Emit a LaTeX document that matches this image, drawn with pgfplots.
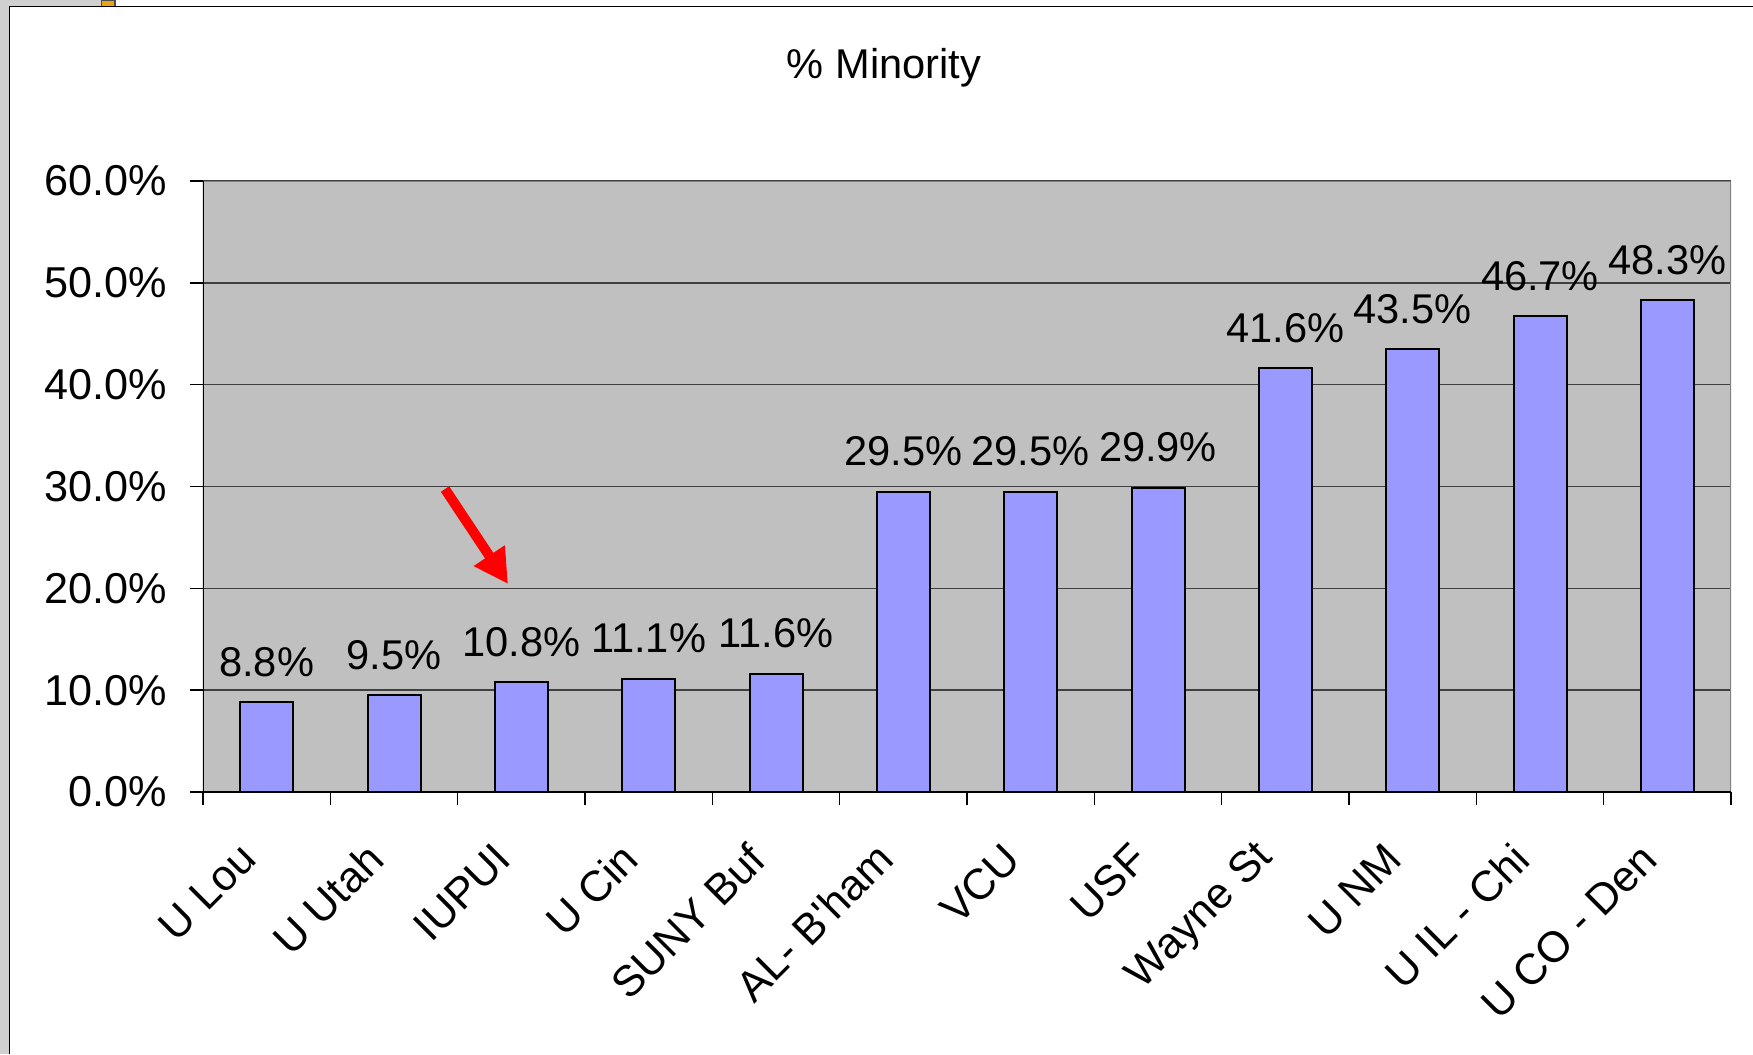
\documentclass[border=0pt]{standalone}
\usepackage{fontspec}
\setmainfont{Liberation Sans}
\usepackage{pgfplots}
\pgfplotsset{compat=1.18}
\usetikzlibrary{arrows.meta}
\definecolor{barblue}{HTML}{9999FF}
\definecolor{plotgray}{HTML}{C0C0C0}
\definecolor{framegray}{HTML}{808080}
\definecolor{slidegray}{HTML}{D0D0D0}
\definecolor{orangebit}{HTML}{E8A317}
\newcommand{\lblfont}{\fontsize{10.4}{12}\selectfont}
\newcommand{\tickfont}{\fontsize{10.8}{12.5}\selectfont}
\begin{document}
\begin{tikzpicture}[x=0.25pt,y=0.25pt]
\useasboundingbox (0,0) rectangle (1753,1054);
\fill[white] (0,0) rectangle (1753,1054);
\fill[slidegray] (0,0) rectangle (9.5,1054);
\fill[slidegray] (0,1054) rectangle (101,1047.5);
\fill[orangebit,draw=black!70,line width=0.3pt] (101.5,1054) rectangle (115,1047.5);
\draw[black,line width=0.4pt] (9.5,0) -- (9.5,1047.5) -- (1753,1047.5);
\node[anchor=base,font=\lblfont,inner sep=0pt] at (884,976) {\% Minority};
\begin{axis}[
  at={(50.75pt,65.5pt)}, anchor=south west,
  width=382pt, height=152.75pt, scale only axis,
  xmin=-0.5, xmax=11.5, ymin=0, ymax=60,
  axis background/.style={fill=plotgray},
  axis line style={draw=none},
  ybar, bar width=13.25pt,
  ytick={0,10,...,60},
  /pgf/number format/assume math mode=true,
  yticklabel={\pgfmathprintnumber[fixed,fixed zerofill,precision=1]{\tick}\%},
  ymajorgrids, grid style={black!75, line width=0.35pt},
  tick align=outside,
  major tick length=3.25pt,
  minor tick length=3.25pt,
  xtick pos=bottom, ytick pos=left,
  xtick={0,...,11},
  xticklabels={U Lou, U Utah, IUPUI, U Cin, SUNY Buf, AL- B\textquotesingle ham, VCU, USF, Wayne St, U NM, U IL - Chi, U CO - Den},
  major x tick style={draw=none},
  minor xtick={-0.5,0.5,...,11.5},
  minor x tick style={black, line width=0.4pt},
  major y tick style={black, line width=0.4pt},
  tick label style={font=\tickfont},
  xticklabel style={xshift=-4.5pt, yshift=-11.5pt, rotate=45, anchor=east, inner sep=0pt},
  yticklabel style={xshift=-5.5pt, anchor=east, inner sep=0pt},
  nodes near coords={\pgfmathprintnumber[fixed,fixed zerofill,precision=1]{\pgfplotspointmeta}\%},
  every node near coord/.append style={anchor=base, yshift=6.5pt, inner sep=0pt, font=\lblfont, text=black},
]
\addplot[fill=barblue, draw=black, line width=0.5pt] coordinates {
 (0,8.8) (1,9.5) (2,10.8) (3,11.1) (4,11.6) (5,29.5) (6,29.5) (7,29.9) (8,41.6) (9,43.5) (10,46.7) (11,48.3)};
\draw[framegray, line width=0.5pt] (rel axis cs:0,1) -- (rel axis cs:1,1) -- (rel axis cs:1,0);
\draw[black, line width=0.4pt] (rel axis cs:0,1) -- (rel axis cs:0,0) -- (rel axis cs:1,0);
\draw[red, line width=2.5pt, -{Triangle[length=8.5pt,width=8.75pt]}] (axis cs:1.4006,29.75) -- (axis cs:1.8954,20.43);
\end{axis}
\end{tikzpicture}
\end{document}
